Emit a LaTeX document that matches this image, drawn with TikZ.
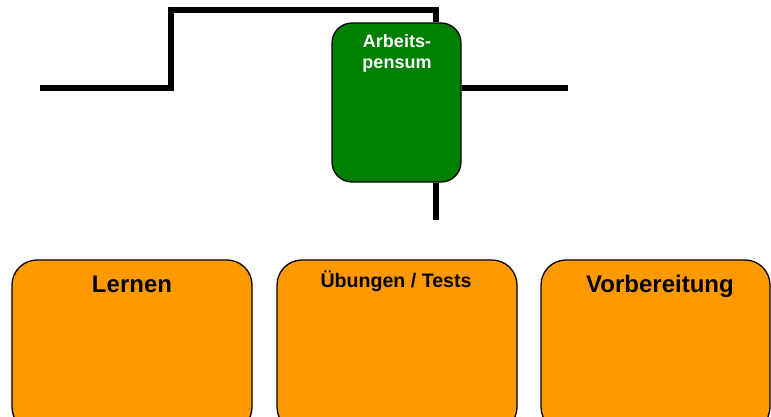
\documentclass[tikz,border=0pt]{standalone}
\usepackage{fontspec}
\setmainfont{Liberation Sans}
\definecolor{boxgreen}{RGB}{0,128,0}
\definecolor{boxorange}{RGB}{255,153,0}
\tikzset{
  wire/.style={line width=5.5pt, line join=miter, line cap=butt},
  greenbox/.style={draw=black, line width=1.3pt, fill=boxgreen, rounded corners=20pt, minimum width=129pt, minimum height=159pt, inner sep=0pt},
  orangebox/.style={draw=black, line width=1.3pt, fill=boxorange, rounded corners=25pt, inner sep=0pt},
  wlbl/.style={text=white, font=\bfseries\fontsize{18pt}{21pt}\selectfont, align=center, inner sep=0pt},
  olbl/.style={text=black, font=\bfseries\fontsize{24pt}{28pt}\selectfont, inner sep=0pt, anchor=base},
  slbl/.style={text=black, font=\bfseries\fontsize{19.6pt}{22pt}\selectfont, inner sep=0pt, anchor=base}
}
\begin{document}
\begin{tikzpicture}[x=1pt, y=-1pt]
\useasboundingbox (0,0) rectangle (771,416);
\clip (0,0) rectangle (771,416);
\fill[white] (0,0) rectangle (771,416);
% boxes
\node[greenbox] (arb) at (396.5,102.5) {};
\node[wlbl, anchor=base] (arbT1) at (397,47) {Arbeits-};
\node[wlbl, anchor=base] (arbT2) at (397,68) {pensum};
\node[orangebox, minimum width=240pt, minimum height=172pt] (lern) at (132,346) {};
\node[orangebox, minimum width=240pt, minimum height=172pt] (ueb) at (397,346) {};
\node[orangebox, minimum width=229pt, minimum height=172pt] (vorb) at (655.5,346) {};
\node[olbl] (lernT) at (132,292) {Lernen};
\node[slbl] (uebT) at (396,287) {Übungen / Tests};
\node[olbl] (vorbT) at (660,292) {Vorbereitung};
% wires
\coordinate (w0) at (40,88);
\coordinate (w1) at (171,88);
\coordinate (w2) at (171,10);
\coordinate (w3) at (436,10);
\coordinate (r0) at (568,88);
\coordinate (b0) at (436,220);
\draw[wire] (w0) -- (w1) -- (w2) -- (w3) -- (w3 |- arb.north);
\draw[wire] (arb.east |- r0) -- (r0);
\draw[wire] (b0 |- arb.south) -- (b0);
\end{tikzpicture}
\end{document}
